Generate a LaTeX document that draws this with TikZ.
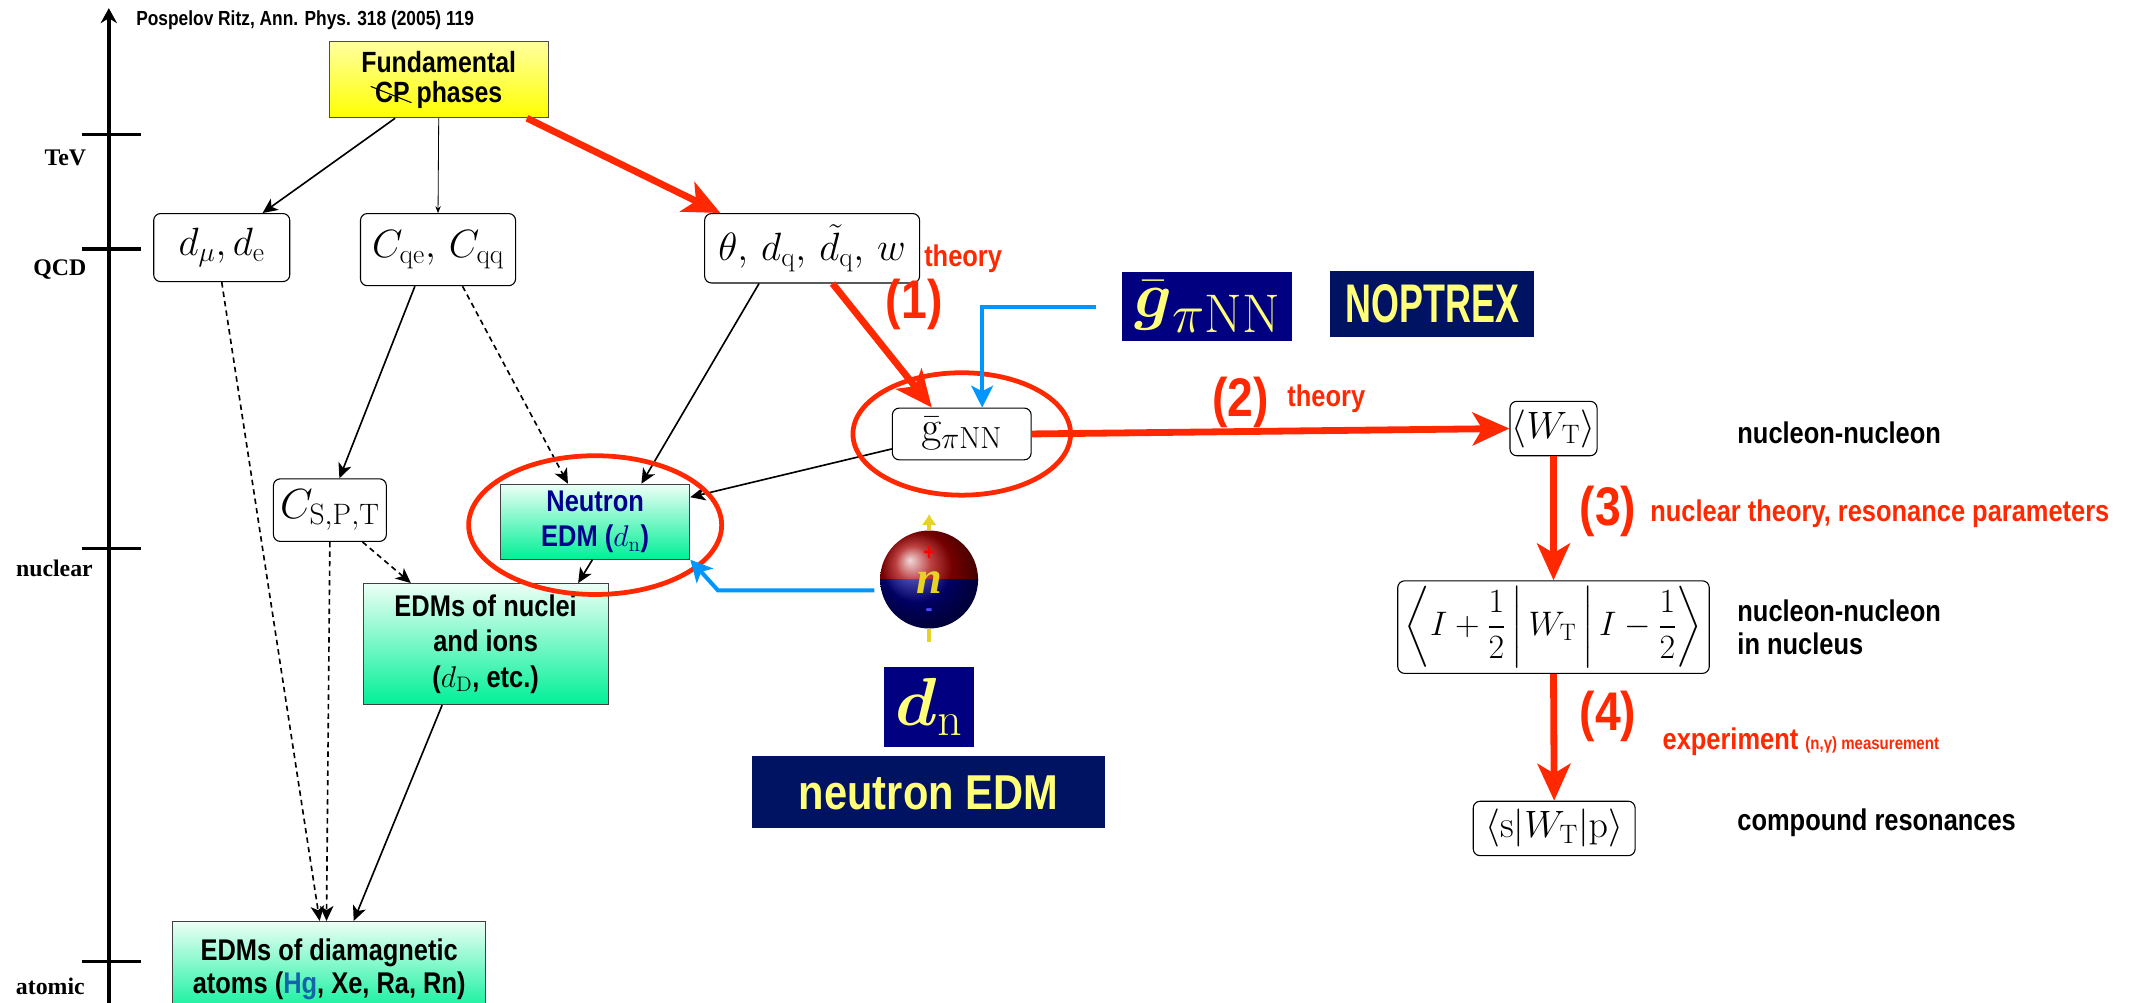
\RequirePackage{fix-cm}
\documentclass[tikz,border=0pt]{standalone}
\usepackage{amsmath}
\usepackage[no-math]{fontspec}
\setmainfont{Liberation Sans}[FakeStretch=0.85]
\newfontfamily\axisfont{Liberation Serif}
\newfontfamily\condensedfont{Liberation Sans}[FakeStretch=0.66]
\usetikzlibrary{arrows.meta}

\definecolor{pathred}{RGB}{255,40,0}
\definecolor{linkblue}{RGB}{0,150,255}
\definecolor{labelnavy}{RGB}{0,0,128}
\definecolor{labeldark}{RGB}{0,18,98}
\definecolor{labelyellow}{RGB}{255,255,120}
\definecolor{edmtop}{RGB}{236,255,246}
\definecolor{edmbottom}{RGB}{0,240,150}
\definecolor{fundtop}{RGB}{255,255,160}
\definecolor{fundbottom}{RGB}{255,255,0}
\definecolor{neutronblue}{RGB}{0,0,140}
\definecolor{hgblue}{RGB}{20,100,170}
\definecolor{spinyellow}{RGB}{230,210,40}

\begin{document}
\begin{tikzpicture}[x=1pt,y=-1pt,
    every node/.style={inner sep=0pt},
    mathbox/.style={draw,rounded corners=5pt,line width=0.8pt,fill=white,font=\fontsize{29}{31}\selectfont},
    edmbox/.style={draw=black!75,line width=0.8pt,top color=edmtop,bottom color=edmbottom,align=center,font=\bfseries\fontsize{22}{26}\selectfont},
    tag/.style={fill=labelnavy,text=labelyellow},
    bigred/.style={line width=5pt,draw=pathred,-{Stealth[length=27pt,width=24pt,inset=7pt]}},
    thinarrow/.style={line width=1.2pt,-{Stealth[length=11pt,width=10pt,inset=3pt]}},
    dasharrow/.style={thinarrow,dash pattern=on 4pt off 3pt},
    bluelink/.style={line width=3pt,draw=linkblue,-{Stealth[length=16pt,width=16pt,inset=4pt]}},
    redring/.style={line width=3.5pt,draw=pathred},
    redlabel/.style={text=pathred,font=\bfseries\fontsize{22}{22}\selectfont},
    stepno/.style={text=pathred,font=\bfseries\fontsize{40}{40}\selectfont},
    level/.style={font=\axisfont\bfseries\fontsize{17.5}{17.5}\selectfont},
    note/.style={font=\bfseries\fontsize{22}{24}\selectfont,align=left,anchor=west}]
\useasboundingbox (0,0) rectangle (1568,737);

% energy scale
\draw[line width=2.5pt,-{Stealth[length=11pt,width=12pt]}] (80,737) -- (80,6);
\foreach \y in {99,183,403,707}
    \draw[line width=2.5pt] (60,\y) -- (104,\y);
\node[level] (tev) at (48,116) {TeV};
\node[level] (qcd) at (44,198) {QCD};
\node[level] (nuc) at (40,418) {nuclear};
\node[level] (atm) at (37,725) {atomic};
\node[anchor=west,font=\bfseries\fontsize{15}{15}\selectfont] (cite) at (100,15) {Pospelov Ritz, Ann. Phys. 318 (2005) 119};

% boxes
\node[draw=black!70,line width=0.8pt,top color=fundtop,bottom color=fundbottom,minimum width=161,minimum height=56,align=center,font=\bfseries\fontsize{21.5}{22}\selectfont] (fund) at (322.5,58.5) {Fundamental\\CP phases};
\draw[line width=0.8pt] ([shift={(-50,5)}]fund.center) -- ([shift={(-20,17)}]fund.center);
\node[mathbox,minimum width=100,minimum height=50] (dmu) at (163,182) {$d_\mu, d_\mathrm{e}$};
\node[mathbox,minimum width=114,minimum height=53] (cq) at (322,183.5) {$C_\mathrm{qe},\,C_\mathrm{qq}$};
\node[mathbox,minimum width=158,minimum height=51] (theta) at (597,182.5) {$\theta,\,d_\mathrm{q},\,\tilde{d}_\mathrm{q},\,w$};
\node[mathbox,minimum width=102,minimum height=38,font=\fontsize{32}{34}\selectfont] (gbar) at (707,319) {$\bar{\mathrm{g}}_{\pi\mathrm{NN}}$};
\node[mathbox,minimum width=83,minimum height=46,font=\fontsize{31}{33}\selectfont] (cspt) at (242.5,375) {$C_\mathrm{S,P,T}$};
\node[edmbox,text=neutronblue,minimum width=139,minimum height=55] (edm) at (437.5,383.5) {Neutron\\EDM ($d_\mathrm{n}$)};
\node[edmbox,minimum width=180,minimum height=89] (nuclei) at (357,473.5) {EDMs of nuclei\\and ions\\($d_\mathrm{D}$, etc.)};
\node[edmbox,minimum width=230,minimum height=70,anchor=north,font=\bfseries\fontsize{22}{24}\selectfont] (atoms) at (242,677) {EDMs of diamagnetic\\atoms ({\color{hgblue}Hg}, Xe, Ra, Rn)};

\node[mathbox,minimum width=64,minimum height=40,font=\fontsize{28}{30}\selectfont] (wt) at (1142,315) {$\langle W_\mathrm{T}\rangle$};
\node[mathbox,minimum width=229,minimum height=68,font=\fontsize{25}{27}\selectfont] (wmat) at (1142,461) {$\left\langle I+\dfrac{1}{2}\,\middle|\,W_\mathrm{T}\,\middle|\,I-\dfrac{1}{2}\right\rangle$};
\node[mathbox,minimum width=119,minimum height=40,font=\fontsize{28}{30}\selectfont] (wsp) at (1142.5,609) {$\langle\mathrm{s}|W_\mathrm{T}|\mathrm{p}\rangle$};

\node[note] (nn) at (1277,318) {nucleon-nucleon};
\node[note] (nnin) at (1277,461) {nucleon-nucleon\\in nucleus};
\node[note] (comp) at (1277,605) {compound resonances};

% labels on dark ground
\node[tag,minimum width=125,minimum height=51,font=\fontsize{48}{48}\selectfont] (gtag) at (887.5,225.5) {$\bar{\boldsymbol{g}}_{\text{\fontsize{40}{40}\selectfont$\pi\mathrm{NN}$}}$};
\node[tag,fill=labeldark,minimum width=150,minimum height=49,font=\condensedfont\bfseries\fontsize{40}{40}\selectfont] (noptrex) at (1053,223.5) {NOPTREX};
\node[tag,minimum width=66,minimum height=59,font=\fontsize{50}{50}\selectfont] (dtag) at (683,519.5) {$\boldsymbol{d}_\mathrm{n}$};
\node[tag,fill=labeldark,minimum width=259,minimum height=53,font=\bfseries\fontsize{36}{36}\selectfont] (ntag) at (682.5,582.5) {neutron EDM};

% neutron
\node[circle,minimum size=72] (neutron) at (683,426) {};
\begin{scope}
    \clip (neutron.center) ++(-40,-40) rectangle ++(80,40);
    \shade[ball color=red!65!black] (neutron.center) circle (36);
\end{scope}
\begin{scope}
    \clip (neutron.center) ++(-40,0) rectangle ++(80,40);
    \shade[ball color=blue!55!black] (neutron.center) circle (36);
\end{scope}
\draw[line width=3pt,spinyellow,-{Latex[length=8pt,width=11pt]}] (neutron.north) -- ++(0,-12);
\draw[line width=3pt,spinyellow] (neutron.south) -- ++(0,10);
\node[text=red,font=\bfseries\fontsize{18}{18}\selectfont] (plus) at ([shift={(0,-19)}]neutron.center) {+};
\node[text=blue!70,font=\bfseries\fontsize{18}{18}\selectfont] (minus) at ([shift={(0,24)}]neutron.center) {-};
\node[text=spinyellow,font=\axisfont\bfseries\itshape\fontsize{34}{34}\selectfont] (nletter) at ([shift={(0,2)}]neutron.center) {n};

% black links
\draw[thinarrow] ([shift={(-32,0)}]fund.south) -- ([shift={(30,0)}]dmu.north);
\draw[line width=0.6pt,-{Stealth[length=5pt,width=4pt]}] (fund.south) -- (cq.north);
\draw[dasharrow] (dmu.south) -- ([shift={(-7,0)}]atoms.north);
\draw[thinarrow] ([shift={(-17,0)}]cq.south) -- ([shift={(7,0)}]cspt.north);
\draw[dasharrow] ([shift={(18,0)}]cq.south) -- ([shift={(-20,0)}]edm.north);
\draw[thinarrow] ([shift={(-39,0)}]theta.south) -- ([shift={(34,0)}]edm.north);
\draw[thinarrow] ([shift={(0,11)}]gbar.west) -- ([shift={(0,-18)}]edm.east);
\draw[dasharrow] (cspt.south) -- ([shift={(-2,0)}]atoms.north);
\draw[dasharrow] ([shift={(24,0)}]cspt.south) -- ([shift={(-55,0)}]nuclei.north);
\draw[thinarrow] ([shift={(-2,0)}]edm.south) -- ([shift={(68,0)}]nuclei.north);
\draw[thinarrow] ([shift={(-32,0)}]nuclei.south) -- ([shift={(18,0)}]atoms.north);

% rings
\draw[redring] (gbar.center) ellipse [x radius=80, y radius=45];
\draw[redring] ([shift={(0,2.5)}]edm.center) ellipse [x radius=93, y radius=51];

% red path
\draw[bigred] ([shift={(-16,0)}]fund.south east) -- ([shift={(12,0)}]theta.north west);
\draw[bigred] ([shift={(15,0)}]theta.south) -- ([shift={(-22,0)}]gbar.north);
\draw[bigred] (gbar.east) -- (wt.west);
\draw[bigred] (wt.south) -- (wmat.north);
\draw[bigred] (wmat.south) -- (wsp.north);

\node[redlabel] (th1) at (708,190) {theory};
\node[stepno] (s1) at (672,224) {(1)};
\node[stepno] (s2) at (912,296) {(2)};
\node[redlabel] (th2) at (975,293) {theory};
\node[stepno] (s3) at (1182,376) {(3)};
\node[redlabel,anchor=west] (th3) at (1213,378) {nuclear theory, resonance parameters};
\node[stepno] (s4) at (1182,527) {(4)};
\node[redlabel,anchor=west] (th4) at (1222,545) {experiment {\fontsize{13}{13}\selectfont (n,γ) measurement}};

% blue pointers
\draw[bluelink] ([shift={(-19,0)}]gtag.west) -| ([shift={(15,0)}]gbar.north);
\draw[bluelink] ([shift={(-4,8)}]neutron.west) -- ++(-115,0) -- (edm.south east);
\end{tikzpicture}
\end{document}
